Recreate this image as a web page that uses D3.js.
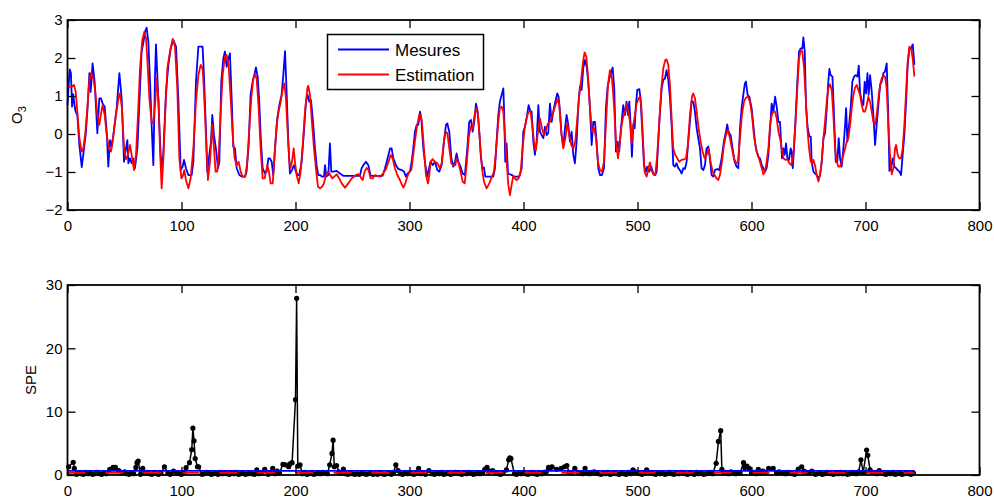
<!DOCTYPE html>
<html>
<head>
<meta charset="utf-8">
<script src="https://cdn.jsdelivr.net/npm/d3@7"></script>
<style>
  html, body { margin: 0; padding: 0; background: #fff; }
  svg text { font-family: "Liberation Sans", Arial, Helvetica, sans-serif; fill: #000; }
</style>
</head>
<body>
<svg id="chart" width="994" height="499"></svg>
<script>
// ---------------- DATA ----------------
const xTicks = [0, 100, 200, 300, 400, 500, 600, 700, 800];
const o3Ticks = [-2, -1, 0, 1, 2, 3];
const speTicks = [0, 10, 20, 30];
const seriesNames = ["Mesures", "Estimation"];

// Measured O3 (blue): [time, value]
const mesures = [
[0,0.75],[1,1.3],[2,1.7],[3,1.6],[4,0.72],[5,1.05],[6,0.8],[7,0.6],[8.6,0.5],[10.4,-0.29],[12.5,-0.87],[14.5,-0.38],[16,0],[17.4,0.59],[19.2,1.6],[20.3,1.11],[22,1.86],[23.8,1.38],[26.2,0.02],[27.9,0.94],[29.4,0.94],[30.8,0.8],[32.6,0.72],[34.4,0.06],[35.8,-0.86],[37.3,-0.16],[38.7,-0.33],[40.2,-0.03],[43.1,0.68],[45.5,1.6],[47.5,0.94],[49.6,-0.73],[51.3,-0.38],[52.5,-0.16],[53.4,-0.77],[54.8,-0.64],[56.3,-0.77],[57.7,-0.64],[59.2,-0.9],[61.3,-0.38],[63.6,1.2],[65,2.17],[66.5,2.39],[68,2.69],[69.4,2.8],[70.9,2.43],[72.4,1.38],[73.8,0.24],[75.3,-0.82],[76.8,1.55],[77.6,2.36],[78.8,1.55],[80.5,0.24],[82.3,-0.9],[84,-0.55],[86.4,1.11],[88.5,1.82],[90.5,2.25],[92.8,2.47],[95.2,2.3],[97.2,0.94],[99.3,-0.95],[101,-0.86],[102.2,-0.68],[103.9,-0.9],[106,-1.08],[108.9,-1.08],[110.4,-0.73],[112.7,1.38],[114.8,2.3],[118.5,2.3],
[119.7,1.55],[121.5,0.06],[122.6,-0.99],[124.4,-0.55],[125.9,-0.2],[127,0.5],[128.5,-0.03],[130.2,-0.38],[132,-0.9],[133.2,-0.73],[134.9,1.38],[136.7,1.99],[138.1,2.17],[139.6,1.77],[141,1.95],[142.5,2.12],[144,0.94],[145.4,-0.33],[146.9,-0.38],[148.4,-0.9],[150.7,-1.08],[152.8,-1.12],[155.7,-1.12],[157.1,-0.99],[158.9,-0.29],[160.6,1.03],[162.4,1.38],[164.2,1.6],[165.3,1.75],[166.8,1.51],[168.2,0.85],[169.7,-0.2],[171.2,-0.9],[173.2,-1.04],[174.7,-0.99],[176.2,-0.64],[177.6,-0.64],[179.1,-0.73],[180.5,-1.08],[182,-0.38],[184,0.41],[185.8,0.76],[187.8,1.03],[189.3,1.55],[190.8,2.18],[192.2,1.11],[193.7,-0.2],[195.1,-1.04],[196.9,-0.95],[198.7,-0.82],[200.4,-0.99],[201.9,-1.08],[203.3,-1.08],[205.4,-0.73],[207.4,0.06],[209.2,0.85],[210.7,1.03],[212.1,0.85],[213.6,0.89],[215.6,0.24],[217.1,-0.38],[218.5,-0.82],[220,-1.08],[221.5,-1.08],[223.2,-1.12],[225,-1.12],[225.9,-0.82],[227,-1.12],[228.8,-1.08],[230.2,-0.25],[231.4,-0.99],[233.2,-0.99],[236.1,-0.97],[239,-1.04],[241.9,-1.1],
[244.8,-1.1],[256.5,-1.1],[258,-0.9],[260,-0.8],[261.8,-0.73],[263.9,-0.82],[265.9,-1.1],[276.4,-1.1],[278.5,-0.9],[280.8,-0.64],[282.9,-0.38],[284.3,-0.38],[285.8,-0.64],[288.1,-0.82],[290.2,-0.92],[293.1,-0.95],[295.1,-0.99],[296.9,-1.12],[298.4,-1.04],[300.4,-0.99],[301.9,-0.73],[303.3,-0.38],[304.8,0.06],[306.3,0.24],[307.7,0.24],[309.2,0.59],[310.3,0.41],[312.1,-0.38],[313.9,-0.82],[315.6,-1.12],[317.4,-0.86],[318.5,-0.73],[320.3,-0.82],[322.3,-0.73],[324.4,-0.95],[326.1,-0.99],[328.2,-0.82],[330.2,-0.2],[332,0.24],[333.2,0.28],[334.9,0.06],[336.7,-0.64],[338.4,-0.86],[339.9,-0.73],[341.3,-0.51],[342.8,-0.73],[344.8,-0.86],[346.6,-1.04],[348.6,-1.08],[350.7,-0.38],[352.4,0.32],[353.9,0.37],[355.4,0.06],[356.8,0.32],[358.3,0.8],[359.8,0.59],[361.2,0.06],[362.7,-0.64],[364.1,-0.9],[365.3,-0.88],[366.5,-1.12],
[373.5,-1.12],[375,-0.9],[376.4,-0.2],[377.9,0.5],[379.3,0.85],[380.8,1.03],[382.3,1.2],[383.1,0.5],[384,-0.73],[385.2,-0.25],[386.4,-1.04],[388.1,-1.06],[389.9,-1.08],[391.6,-1.12],[396.3,-1.12],[398.4,-0.9],[399.8,0.06],[401.3,0.19],[402.7,0.41],[404.5,0.76],[405.7,0.63],[407.1,0.59],[408.6,-0.2],[410,-0.55],[411.5,-0.2],[413,0.76],[414.4,0.06],[415.9,-0.03],[417.4,-0.11],[418.8,0.19],[420.3,-0.03],[421.7,0.02],[423.2,0.8],[424.7,0.32],[426.1,0.59],[427.9,0.85],[429.6,1.07],[430.8,0.98],[432,0.59],[433.4,-0.03],[434.9,-0.33],[436.4,0.15],[437.8,0.5],[439.3,0.24],[440.7,-0.2],[442.2,0.06],[443.7,-0.55],[445.1,-0.77],[446.6,-0.2],[448.1,0.76],[449.5,1.25],[451,1.16],[452.4,1.73],[453.9,1.95],[455.4,1.77],[456.8,1.38],[458.3,0.68],[459.8,-0.29],[461.2,0.32],[462.7,0.32],[464.1,-0.2],[465.6,-0.9],[467.1,-1.08],[468.8,-1.08],[470.6,-0.9],[472.3,0.68],[473.8,1.25],[475.3,1.46],[476.7,1.6],[478.2,1.75],[479.6,1.2],[481.1,-0.46],[482.6,-0.2],[484,-0.46],
[485.5,0.15],[487.5,0.76],[489,0.5],[490.4,0.85],[491.6,0.5],[492.8,0.85],[494,0.24],[495.1,-0.6],[496.3,0.24],[497.5,0.15],[498.6,0.76],[499.8,1.16],[501.6,1.18],[502.7,0.94],[503.9,0.24],[505.7,-0.82],[507.4,-0.99],[508.6,-0.86],[510.3,-0.99],[512.1,-0.86],[513.8,-1.04],[515.6,-1.08],[516.8,-0.99],[518.2,-0.2],[519.7,0.59],[521.2,1.2],[522.6,1.42],[524.1,1.46],[525.5,1.68],[527,1.42],[528.5,0.94],[529.9,0.24],[531.4,-0.82],[532.8,-0.86],[534.3,-0.77],[535.8,-0.9],[537.2,-0.95],[538.7,-1.04],[540.2,-0.9],[541.6,-0.92],[543.1,-0.73],[544.5,-0.2],[546,0.32],[547.5,0.87],[548.9,0.85],[550.4,0.59],[551.9,0.15],[553.3,-0.11],[554.8,-0.38],[556.2,-0.9],[557.7,-0.95],[559.2,-0.82],[560.6,-0.38],[562.1,-0.33],[563.5,-0.64],[565,-1.08],[566.5,-1.12],[567.9,-0.95],[570,-0.92],[571.7,-0.95],[573.8,-0.64],[575.8,-0.2],[577.6,0.06],[578.7,0.25],[579.9,0.06],[581.7,-0.03],[583.4,-0.38],[585.2,-0.73],[586.9,-0.86],[588.4,-0.9],[589.9,0.15],[591.3,0.68],[592.8,1.03],[594.2,1.33],[595.1,1.38],[596.6,1.03],[598.1,0.98],[600.1,0.68],[601.6,0.24],[603,-0.2],[604.5,-0.46],[606,-0.6],[607.4,-0.64],
[609,-0.82],[610.4,-0.9],[611.9,-0.99],[613.3,-0.9],[614.8,-0.55],[616.3,0.15],[617.7,0.8],[619.2,0.59],[620.7,0.98],[622.1,0.72],[623.6,0.32],[625,0.32],[625.9,-0.2],[626.8,-0.64],[628,-0.38],[629.1,-0.55],[630.3,-0.25],[631.5,-0.64],[632.9,-0.68],[634.4,-0.38],[635.3,-0.46],[636.2,-0.9],[637.3,-0.38],[638.8,0.5],[640.2,1.38],[641.7,2.17],[643.2,2.25],[644.6,2.25],[645.5,2.54],[646.7,2.17],[647.9,0.68],[649.3,0.15],[650.8,-0.07],[652,-0.07],[652.8,-0.73],[654.3,-0.99],[655.7,-1.04],[657.2,-1.08],[658.7,-1.17],[660.1,-1.08],[661.6,-0.73],[663.1,-0.11],[664.5,0.02],[666,0.68],[667.4,1.38],[668.3,1.71],[669.5,1.55],[671,1.51],[672.4,0.5],[673.9,-0.73],[675.3,-0.73],[676.5,-0.11],[677.7,-0.64],[679.1,-0.86],[680.6,-0.38],[682.1,0.24],[683,0.68],[684.1,-0.2],[685.6,0.24],[687,0.68],[688.5,1.38],[690,1.51],[691.4,1.55],[692.9,1.51],[694.1,1.8],[695.2,1.11],[696.7,0.85],[698.1,0.76],[699.3,1.38],[700.5,1.07],[701.7,1.6],[702.8,1.03],[704,1.55],[705.5,1.11],[706.9,0.5],[708.4,-0.29],[709.8,0.24],[711.3,0.76],[712.8,1.29],[714.2,1.38],[715.7,1.6],[717.1,1.64],[718.6,1.86],[719.8,0.68],[721,-0.97],[722.4,-0.9],[723.9,-0.64],[725.3,-0.86],[726.8,-0.9],[728.3,-0.95],[729.7,-0.99],[731.2,-1.08],[732.6,-0.55],[734.1,-0.03],[735.6,0.85],[737,1.82],[738.5,2.25],[740,2.25],[741.4,2.36],[742.9,1.82]
];

// Estimated O3 (red): [time, value]
const estimation = [
[0,1.25],[2.2,1.25],[4,1.25],[5.7,1.29],[7.2,1.11],[8.6,0.59],[10.4,-0.11],[12.4,-0.46],[13.9,-0.38],[15.6,0.02],[17.4,0.68],[19.2,1.42],[20.6,1.6],[22.7,1.46],[24.4,1.11],[26.2,0.5],[27.9,0.24],[29.7,0.59],[30.8,0.76],[32.6,0.5],[34.4,-0.03],[36.4,-0.38],[38.1,-0.46],[39.6,-0.2],[42.5,0.5],[44.9,0.98],[46,1.07],[47.8,0.68],[49.6,-0.38],[51.3,-0.66],[53,-0.55],[54.8,-0.29],[56.3,-0.55],[58.3,-0.95],[60.1,-0.55],[62.1,0.68],[63.6,1.73],[65.6,2.47],[67.4,2.69],[68.9,2.52],[70.3,1.82],[71.8,0.94],[73.8,0.32],[75.3,0.28],[77,0.85],[78.2,1.46],[80,0.85],[81.1,-0.38],[82.6,-1.43],[84,-0.73],[85.8,0.59],[87.6,1.73],[89.9,2.17],[92.3,2.5],[94.3,2.3],[96.3,1.2],[98.1,-0.64],[99.9,-1.17],[101,-1.12],[102.5,-0.95],[103.9,-1.21],[106,-1.43],[108,-1.17],[110.4,-0.38],[112.7,0.85],[114.8,1.55],[116.8,1.82],[118.6,1.7],
[119.7,1.11],[121.5,-0.11],[123.2,-1.21],[125,-0.73],[127,0.24],[128.5,-0.38],[129.9,-0.99],[131.4,-0.99],[132.6,-0.55],[134.3,0.5],[136.1,1.55],[138.1,2.04],[139.6,2.08],[141.3,1.82],[143.1,0.94],[144.9,-0.03],[146.6,-0.64],[148.4,-0.82],[150.1,-0.73],[151.9,-0.99],[153.6,-1.12],[156,-1.12],[157.7,-0.73],[159.5,0.15],[161.2,0.94],[163,1.46],[164.5,1.57],[165.9,1.46],[167.7,0.68],[169.4,-0.38],[171.2,-1.17],[172.9,-1.17],[174.1,-0.99],[175.3,-0.82],[176.7,-0.99],[178.2,-1.3],[180,-1.3],[181.7,-0.55],[183.5,0.24],[185.2,0.59],[187,0.85],[188.7,1.16],[190.2,1.33],[191.6,0.94],[193.1,0.06],[194.6,-0.73],[195.7,-0.9],[196.9,-0.73],[198.4,-0.38],[199.5,-0.73],[201,-1.08],[202.8,-1.3],[204.5,-0.99],[206.3,-0.29],[208.3,0.59],[210.4,1.2],[211.2,1.27],[212.7,1.03],[214.4,0.32],[216.2,-0.38],[217.9,-0.9],[219.7,-1.39],[221.5,-1.43],[223.2,-1.39],[225,-1.3],[226.7,-1.08],[228.8,-0.99],[230.5,-1.08],[232.3,-1.17],[234,-1.12],[236.1,-1.06],[238.4,-1.17],
[240.5,-1.3],[243.4,-1.41],[246.3,-1.3],[249.2,-1.17],[252.2,-1.1],[254.2,-1.06],[256,-1.06],[257.7,-1.17],[258.9,-1.21],[260.6,-0.99],[262.4,-0.89],[264.1,-0.95],[265.9,-1.17],[267.7,-1.17],[269.7,-1.08],[271.7,-1.1],[274,-1.12],[276.4,-1.06],[279.4,-0.92],[281.7,-0.73],[283.4,-0.55],[285.2,-0.64],[287.2,-0.9],[289.3,-1.08],[291.6,-1.21],[293.4,-1.34],[294.6,-1.41],[296.3,-1.3],[298.1,-1.12],[299.8,-0.99],[301.6,-0.95],[303.3,-0.55],[305.1,-0.11],[306.8,0.24],[308.6,0.5],[309.8,0.5],[310.9,0.32],[312.7,-0.38],[314.4,-1.08],[316.2,-1.3],[317.4,-1.08],[318.5,-0.73],[320.3,-0.66],[322.3,-0.73],[324.4,-0.77],[326.7,-0.9],[328.2,-0.77],[330.2,-0.2],[331.7,0.06],[333.2,0.02],[334.9,-0.38],[336.7,-0.77],[338.4,-0.82],[340.2,-0.82],[341.3,-0.64],[343.1,-0.77],[344.8,-0.99],[346.6,-1.25],[348.4,-1.3],[350.1,-0.82],[351.9,-0.11],[353.6,0.19],[355.4,0.15],[357.1,0.5],[358.6,0.68],[360.1,0.5],[361.8,-0.2],[363.6,-0.9],[365.3,-1.25],
[367.6,-1.43],[370,-1.3],[372,-1.15],[374.1,-0.99],[375.8,-0.46],[377.9,0.32],[379.3,0.68],[380.8,0.72],[382.3,0.59],[383.7,-0.03],[385.2,-0.73],[386.7,-1.34],[388.1,-1.61],[389.6,-1.34],[391,-1.1],[392.5,-1.17],[394,-1.21],[395.7,-1.17],[397.5,-0.99],[399.2,-0.38],[401,0.15],[402.7,0.41],[404.5,0.59],[406.2,0.59],[408,0.15],[409.8,-0.38],[410.9,-0.42],[412.7,0.06],[414.4,0.41],[416.2,0.15],[418,-0.03],[419.7,0.11],[421.5,0.28],[423.2,0.32],[425,0.46],[426.7,0.63],[428.5,0.8],[430.2,0.92],[431.4,0.76],[433.1,0.06],[434.9,-0.38],[436.7,-0.11],[438.4,0.28],[440.2,-0.03],[441.9,-0.29],[443.7,-0.38],[445.4,-0.2],[447.2,0.41],[448.9,1.03],[450.7,1.46],[452.2,1.9],[453.6,2.15],[455.1,2.04],[456.5,1.55],[458.3,0.68],[460.1,0.06],[461.8,0.15],[463.6,-0.11],[465.3,-0.73],[467.1,-0.95],[468.8,-0.99],[470.6,-0.73],[472.3,0.24],[474.1,1.29],[475.8,1.68],[477.6,1.46],[479.4,0.76],[481.1,-0.2],[482.9,-0.64],
[486.1,0.24],[487.5,0.46],[489,0.59],[490.4,0.8],[491.9,0.59],[493.4,0.32],[494.8,-0.25],[496.3,0.24],[497.8,0.5],[499.2,0.8],[501,0.94],[502.1,0.98],[503.3,0.76],[504.5,0.06],[506.2,-0.99],[508,-1.12],[509.7,-0.9],[510.9,-0.75],[512.7,-0.99],[514.4,-1.08],[515.6,-1.08],[517.3,-0.55],[519.1,0.32],[520.9,1.2],[522.6,1.73],[524.4,1.95],[525.5,1.96],[527,1.82],[528.5,1.29],[530.2,0.24],[531.4,-0.38],[533.1,-0.55],[534.9,-0.64],[536.6,-0.73],[538.7,-0.68],[540.7,-0.67],[542.5,-0.64],[544.2,-0.29],[546,0.5],[547.8,0.98],[548.9,1.07],[550.4,0.94],[551.9,0.59],[553.6,0.15],[555.4,-0.2],[557.1,-0.46],[558.9,-0.64],[560.6,-0.55],[562.4,-0.38],[564.1,-0.73],[565.9,-0.99],[567.6,-1.08],[569.4,-1.17],[570.9,-1.21],[572.3,-1.08],[574.1,-0.73],[575.8,-0.29],[577.6,-0.03],[579.3,0.11],[581.1,-0.11],[582.8,-0.38],[584.6,-0.64],[586.4,-0.77],[588.1,-0.73],[589.9,-0.11],[591.6,0.5],[593.4,0.85],[595.1,0.96],[596.9,0.98],[598.6,0.85],[600.4,0.5],[602.1,-0.03],[603.9,-0.38],[605.7,-0.55],[607.4,-0.73],
[609,-0.9],[610.4,-1.06],[611.9,-0.99],[613.3,-0.73],[614.8,-0.38],[616.3,0.24],[617.7,0.5],[619.2,0.59],[620.7,0.59],[622.1,0.41],[623.6,0.06],[625,-0.11],[626.5,-0.38],[628,-0.64],[629.7,-0.68],[631.5,-0.67],[633.2,-0.77],[635,-0.82],[636.7,-0.55],[638.5,0.24],[640.2,1.2],[641.7,1.99],[643.2,2.21],[644.6,2.17],[646.1,1.73],[647.6,0.94],[649,0.15],[650.5,-0.38],[652,-0.73],[653.4,-0.77],[654.3,-0.68],[655.7,-0.82],[657.2,-1.08],[658.7,-1.25],[660.1,-1.08],[661.6,-0.73],[663.1,-0.11],[664.5,0.32],[666,0.85],[667.4,1.2],[668.9,1.31],[670.4,1.16],[671.8,0.5],[673.3,-0.38],[674.8,-0.73],[676.2,-0.86],[677.7,-0.86],[679.1,-0.73],[680.6,-0.55],[682.1,-0.38],[683.5,-0.2],[685,-0.11],[686.5,0.24],[687.9,0.68],[689.4,1.03],[690.8,1.22],[692.3,1.29],[693.8,1.16],[695.2,1.03],[696.7,0.76],[698.1,0.59],[699.6,0.59],[701.1,0.76],[702.5,0.98],[704,0.85],[705.5,0.59],[706.9,0.32],[708.4,0.24],[709.8,0.5],[711.3,0.94],[712.8,1.29],[714.2,1.46],[715.7,1.54],[717.1,1.51],[718.6,1.2],[720,0.24],[721.5,-0.55],[723,-1.06],[724.4,-0.9],[725.9,-0.38],[726.8,-0.29],[728.3,-0.55],[729.7,-0.64],[731.2,-0.64],[732.6,-0.38],[734.1,0.24],[735.6,1.11],[737,1.9],[738.5,2.3],[740,2.25],[741.4,1.99],[742.9,1.51]
];

// SPE low-level readings at t = 0, 2, 4, ... 742
const speBase = [
0.4,0.3,0.5,0.2,0.1,0.3,0.2,0.1,0.4,0.2,0.3,0.1,0.2,0.4,0.2,0.1,0.3,0.2,0.5,0.2,
0.3,0.2,0.4,0.1,0.3,0.5,0.2,0.1,0.3,0.2,0.4,0.3,0.1,0.2,0.3,0.4,0.2,0.1,0.3,0.2,
0.1,0.3,0.4,0.2,0.3,0.1,0.2,0.5,0.3,0.2,0.1,0.4,0.2,0.3,0.5,0.3,0.4,0.2,0.3,0.1,
0.2,0.4,0.3,0.1,0.2,0.3,0.1,0.4,0.2,0.3,0.2,0.1,0.3,0.2,0.4,0.1,0.2,0.3,0.1,0.2,
0.3,0.2,0.1,0.4,0.2,0.3,0.5,0.2,0.1,0.3,0.4,0.2,0.6,0.3,0.5,0.4,0.3,0.6,0.4,0.5,
0.4,0.5,0.3,0.2,0.4,0.1,0.2,0.3,0.1,0.2,0.3,0.2,0.4,0.3,0.2,0.5,0.6,0.3,0.4,0.5,
0.3,0.6,0.2,0.1,0.3,0.2,0.1,0.2,0.1,0.3,0.2,0.1,0.2,0.3,0.1,0.2,0.1,0.3,0.2,0.1,
0.2,0.3,0.1,0.4,0.5,0.3,0.2,0.1,0.3,0.2,0.4,0.2,0.1,0.3,0.5,0.2,0.3,0.1,0.2,0.4,
0.2,0.1,0.3,0.2,0.4,0.1,0.2,0.3,0.1,0.2,0.4,0.3,0.2,0.1,0.3,0.2,0.4,0.3,0.1,0.2,
0.3,0.2,0.4,0.5,0.3,0.6,0.2,0.4,0.3,0.2,0.1,0.3,0.2,0.5,0.6,0.3,0.2,0.1,0.3,0.2,
0.3,0.2,0.1,0.3,0.4,0.2,0.1,0.3,0.2,0.4,0.5,0.3,0.6,0.4,0.5,0.3,0.6,0.4,0.5,0.6,
0.4,0.3,0.5,0.6,0.4,0.3,0.2,0.4,0.3,0.2,0.4,0.5,0.3,0.2,0.1,0.3,0.2,0.4,0.1,0.2,
0.3,0.2,0.1,0.3,0.2,0.1,0.4,0.2,0.3,0.5,0.4,0.2,0.1,0.3,0.2,0.4,0.3,0.2,0.1,0.3,
0.2,0.3,0.1,0.2,0.4,0.2,0.1,0.3,0.2,0.4,0.3,0.2,0.1,0.3,0.2,0.1,0.4,0.2,0.3,0.1,
0.2,0.3,0.4,0.2,0.3,0.5,0.4,0.6,0.3,0.4,0.2,0.5,0.3,0.2,0.4,0.3,0.5,0.6,0.4,0.5,
0.3,0.4,0.2,0.5,0.3,0.6,0.4,0.3,0.5,0.4,0.2,0.3,0.5,0.4,0.3,0.2,0.4,0.3,0.2,0.1,
0.4,0.3,0.5,0.6,0.4,0.3,0.2,0.4,0.1,0.2,0.3,0.1,0.2,0.4,0.3,0.2,0.1,0.3,0.2,0.4,
0.2,0.3,0.1,0.2,0.4,0.3,0.2,0.5,0.3,0.4,0.6,0.3,0.5,0.4,0.3,0.2,0.4,0.3,0.2,0.1,
0.3,0.2,0.4,0.1,0.2,0.3,0.1,0.2,0.3,0.2,0.1,0.3
];
const speBaseStep = 2;

// SPE readings that stand out of the low band: [time, value]
const spePeaks = [
[1,1.3],[5,2.0],[6,1.05],[37,0.9],[40,1.2],[42,1.2],[45,0.7],[60,1.2],[61,1.95],[62,2.2],[66,1.05],[85,1.3],[93,0.6],
[104,1.15],[107,1.95],[109,4.0],[110,7.4],[111,5.4],[112,2.6],[114,1.3],[115,1.3],
[166,0.8],[173,0.9],[180,1.05],[189,1.7],[191,1.6],[194,1.3],[195,1.75],[197,1.95],[200,11.9],[201,27.9],[202,1.4],[204,1.6],
[230,1.6],[232,3.4],[233,5.5],[234,1.3],[236,1.5],[242,0.95],[288,1.6],[290,0.7],[308,1.05],[317,0.7],
[366,0.9],[368,1.2],[373,0.7],[385,0.8],[387,2.4],[388,2.7],[389,2.6],
[422,1.2],[424,1.2],[425,1.3],[429,0.9],[433,1.05],[436,1.3],[438,1.5],[445,1.05],[454,1.05],[496,0.8],[508,0.8],
[569,1.85],[571,5.3],[573,7.0],[574,0.9],[593,1.95],[594,1.2],[596,1.4],[598,1.05],[606,0.9],[615,1.05],[619,1.05],
[641,0.95],[644,1.3],[653,0.6],[696,2.4],[701,3.95],[702,3.1],[704,0.8],[712,0.7]
];

// Control limits drawn on the SPE panel
const speLimitBlue = 0.65;
const speLimitRed = 0.35;
const speRange = [0, 743];

// ---------------- DRAWING ----------------
const svg = d3.select("#chart");
const W = 994, H = 499;
const left = 67.5, right = 979.5;
const top1 = 20, bot1 = 210;
const top2 = 285, bot2 = 475;

const x = d3.scaleLinear().domain([0, 800]).range([left, right]);
const y1 = d3.scaleLinear().domain([-2, 3]).range([bot1, top1]);
const y2 = d3.scaleLinear().domain([0, 30]).range([bot2, top2]);

const fmt = d3.format("d");

function drawAxes(yScale, yTop, yBot, yTicks) {
  const g = svg.append("g");
  // bottom axis with labels
  const ab = g.append("g").attr("transform", `translate(0,${yBot})`)
    .call(d3.axisBottom(x).tickValues(xTicks).tickFormat(fmt).tickSize(-8).tickSizeOuter(0).tickPadding(10));
  // top ticks
  const at = g.append("g").attr("transform", `translate(0,${yTop})`)
    .call(d3.axisTop(x).tickValues(xTicks).tickFormat("").tickSize(-8).tickSizeOuter(0));
  // left axis
  const al = g.append("g").attr("transform", `translate(${left},0)`)
    .call(d3.axisLeft(yScale).tickValues(yTicks).tickFormat(d3.format("d")).tickSize(-8).tickSizeOuter(0).tickPadding(5));
  // right ticks
  const ar = g.append("g").attr("transform", `translate(${right},0)`)
    .call(d3.axisRight(yScale).tickValues(yTicks).tickFormat("").tickSize(-8).tickSizeOuter(0));
  [ab, at, al, ar].forEach(a => {
    a.select(".domain").remove();
    a.selectAll(".tick line").attr("stroke", "#000").attr("stroke-width", 1.3);
    a.selectAll(".tick text").attr("font-size", 15).attr("fill", "#000")
      .style("font-family", '"Liberation Sans", Arial, Helvetica, sans-serif');
  });
  // box
  g.append("rect").attr("x", left).attr("y", yTop).attr("width", right - left).attr("height", yBot - yTop)
    .attr("fill", "none").attr("stroke", "#000").attr("stroke-width", 1.8);
  return g;
}

// ---- top panel ----
const topLayer = svg.append("g");
const line1 = d3.line().x(d => x(d[0])).y(d => y1(d[1]));
topLayer.append("path").datum(mesures).attr("d", line1)
  .attr("fill", "none").attr("stroke", "#0000ff").attr("stroke-width", 1.8).attr("stroke-linejoin", "round");
topLayer.append("path").datum(estimation).attr("d", line1)
  .attr("fill", "none").attr("stroke", "#ff0000").attr("stroke-width", 1.8).attr("stroke-linejoin", "round");
drawAxes(y1, top1, bot1, o3Ticks);

// y label O3
const ylab1 = svg.append("text").attr("transform", `translate(22,${(top1 + bot1) / 2}) rotate(-90)`)
  .attr("text-anchor", "middle").attr("font-size", 15);
ylab1.append("tspan").text("O");
ylab1.append("tspan").attr("font-size", 11).attr("dy", 4).text("3");

// legend
const lg = svg.append("g");
lg.append("rect").attr("x", 327.5).attr("y", 34.5).attr("width", 156).attr("height", 55)
  .attr("fill", "#fff").attr("stroke", "#000").attr("stroke-width", 1.5);
const legColors = ["#0000ff", "#ff0000"];
seriesNames.forEach((name, i) => {
  const ly = 49.5 + i * 25;
  lg.append("line").attr("x1", 338).attr("x2", 389).attr("y1", ly).attr("y2", ly)
    .attr("stroke", legColors[i]).attr("stroke-width", 1.8);
  lg.append("text").attr("x", 395).attr("y", ly + 6).attr("font-size", 17).text(name);
});

// ---- bottom panel ----
const speAll = speBase.map((v, i) => [i * speBaseStep, v])
  .filter(([t]) => !spePeaks.some(p => Math.abs(p[0] - t) <= 1))
  .concat(spePeaks)
  .sort((a, b) => a[0] - b[0]);

const botLayer = svg.append("g");
const line2 = d3.line().x(d => x(d[0])).y(d => y2(d[1]));
botLayer.append("path").datum(speAll).attr("d", line2)
  .attr("fill", "none").attr("stroke", "#000").attr("stroke-width", 1.5).attr("stroke-linejoin", "round");
botLayer.selectAll("circle.spe").data(speAll).enter().append("circle")
  .attr("class", "spe").attr("cx", d => x(d[0])).attr("cy", d => y2(d[1])).attr("r", 2.6).attr("fill", "#000");
botLayer.append("line").attr("x1", x(speRange[0])).attr("x2", x(speRange[1]))
  .attr("y1", y2(speLimitBlue)).attr("y2", y2(speLimitBlue))
  .attr("stroke", "#0000ff").attr("stroke-width", 1.8);
botLayer.append("line").attr("x1", x(speRange[0])).attr("x2", x(speRange[1]))
  .attr("y1", y2(speLimitRed)).attr("y2", y2(speLimitRed))
  .attr("stroke", "#ff0000").attr("stroke-width", 1.8).attr("stroke-dasharray", "18,20");
drawAxes(y2, top2, bot2, speTicks);

svg.append("text").attr("transform", `translate(36,${(top2 + bot2) / 2}) rotate(-90)`)
  .attr("text-anchor", "middle").attr("font-size", 15).text("SPE");
</script>
</body>
</html>
